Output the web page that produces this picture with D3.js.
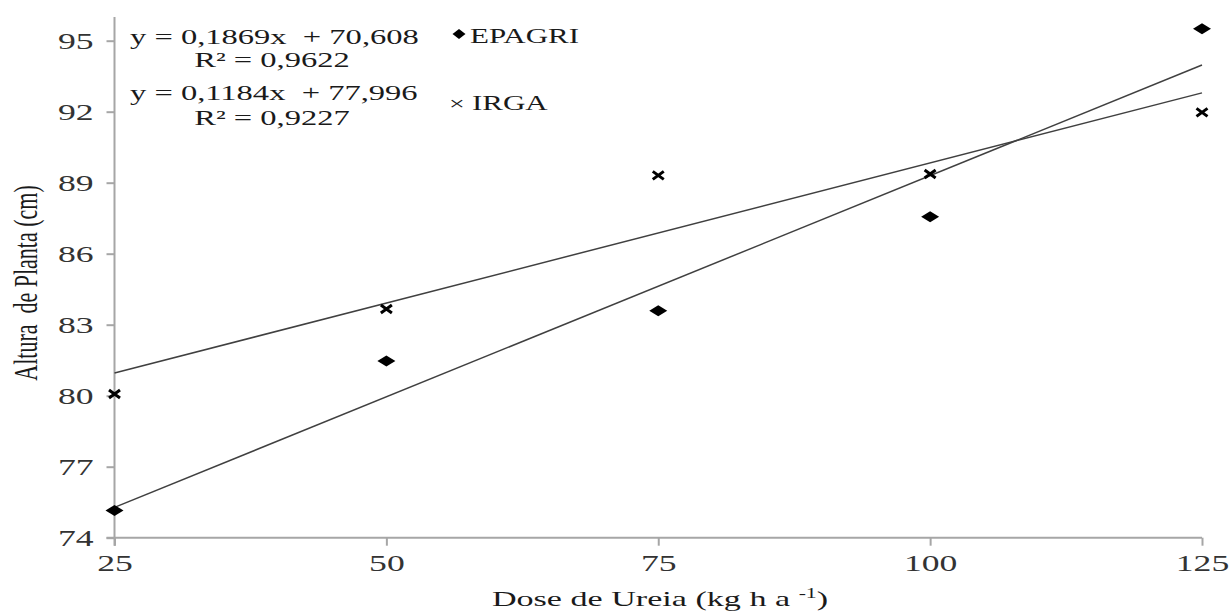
<!DOCTYPE html>
<html>
<head>
<meta charset="utf-8">
<script src="https://cdn.jsdelivr.net/npm/d3@7"></script>
<style>
  body { margin: 0; background: #fff; }
  svg text { font-family: "Liberation Serif", "Times New Roman", serif; fill: #1a1a1a; }
  .axis path, .axis line { stroke: #a6a6a6; stroke-width: 2; }
  .axis text { font-size: 23px; fill: #333; font-family: "Liberation Serif", serif; }
</style>
</head>
<body>
<div class="chart"></div>
<script>
// doses (x) and heights
const doses = [25, 50, 75, 100, 125];
const epagri = [75.15, 81.47, 83.59, 87.56, 95.5];
const irga = [80.07, 83.66, 89.31, 89.37, 91.97];
const yTicks = [74, 77, 80, 83, 86, 89, 92, 95];

// trendline coefficients as printed
const epagriFit = [0.1869, 70.608];
const irgaFit = [0.1184, 77.996];
const epagriText = ["y = 0,1869x  + 70,608", "R² = 0,9622"];
const irgaText = ["y = 0,1184x  + 77,996", "R² = 0,9227"];

const width = 1230, height = 614;
const margin = {top: 40.7, right: 28, bottom: 76.3, left: 114.5};
const sx = 1.55; // the source picture is stretched sideways

let svg = d3.select(".chart").append("svg")
    .attr("width", width)
    .attr("height", height);

let xScale = d3.scaleLinear().domain([25, 125]).range([margin.left, width - margin.right]);
let yScale = d3.scaleLinear().domain([74, 95]).range([height - margin.bottom, margin.top]);

// stretched text helper
const label = (x, y, txt, size, anchor) => svg.append("text")
    .attr("transform", `translate(${x}, ${y}) scale(${sx}, 1)`)
    .attr("text-anchor", anchor || "start")
    .style("font-size", size + "px")
    .style("white-space", "pre")
    .text(txt);

// axes
svg.append("g")
    .attr("class", "x axis")
    .attr("transform", `translate(0, ${yScale(74)})`)
    .call(d3.axisBottom(xScale).tickValues(doses).tickSizeOuter(0).tickSizeInner(8).tickPadding(9))
    .call(g => g.select(".domain").attr("d", `M${xScale(25) - 8},0H${xScale(125)}`))
    .call(g => g.selectAll(".tick text").attr("transform", `scale(${sx}, 1)`));

svg.append("g")
    .attr("class", "y axis")
    .attr("transform", `translate(${xScale(25)}, 0)`)
    .call(d3.axisLeft(yScale).tickValues(yTicks).tickSizeOuter(0).tickSizeInner(8))
    .call(g => g.select(".domain").attr("d", `M0,${yScale(74) + 8}V${yScale(96)}`))
    .call(g => g.selectAll(".tick text").attr("x", -21 / sx).attr("transform", `scale(${sx}, 1)`));

// axis titles
svg.append("text")
    .attr("transform", `translate(660, 606) scale(${sx}, 1)`)
    .attr("text-anchor", "middle")
    .style("font-size", "22px")
    .html('Dose de Ureia (kg h a <tspan dy="-8" font-size="14">-1</tspan><tspan dy="8">)</tspan>');

svg.append("text")
    .attr("transform", `translate(37, 283) scale(${sx}, 1) rotate(-90)`)
    .attr("text-anchor", "middle")
    .style("font-size", "22px")
    .style("white-space", "pre")
    .text("Altura  de Planta (cm)");

// trendlines
const fitLine = coef => d3.line()
    .x(d => xScale(d))
    .y(d => yScale(coef[0] * d + coef[1]));

[epagriFit, irgaFit].forEach(coef => {
  svg.append("path")
    .datum([25, 125])
    .attr("d", fitLine(coef))
    .attr("fill", "none")
    .attr("stroke", "#404040")
    .attr("stroke-width", 1.5);
});

// markers
const diamond = "M-9,0L0,-5.5L9,0L0,5.5Z";
const cross = "M-5.5,-4L5.5,4M-5.5,4L5.5,-4";

svg.selectAll(".epagri")
  .data(doses)
  .join("path")
    .attr("class", "epagri")
    .attr("transform", (d, i) => `translate(${xScale(d)}, ${yScale(epagri[i])})`)
    .attr("d", diamond)
    .attr("fill", "#000");

svg.selectAll(".irga")
  .data(doses)
  .join("path")
    .attr("class", "irga")
    .attr("transform", (d, i) => `translate(${xScale(d)}, ${yScale(irga[i])})`)
    .attr("d", cross)
    .attr("stroke", "#000")
    .attr("stroke-width", 3);

// equations
[epagriText, irgaText].forEach((t, i) => {
  label(130, 44 + i * 56, t[0], 21);
  label(272, 67 + i * 58, t[1], 21, "middle");
});

// legend
svg.append("path")
    .attr("transform", "translate(459, 34)")
    .attr("d", "M-6.5,0L0,-5L6.5,0L0,5Z")
    .attr("fill", "#000");
label(470, 43, "EPAGRI", 20);

label(449, 110, "×", 18);
label(472, 110, "IRGA", 20);
</script>
</body>
</html>
